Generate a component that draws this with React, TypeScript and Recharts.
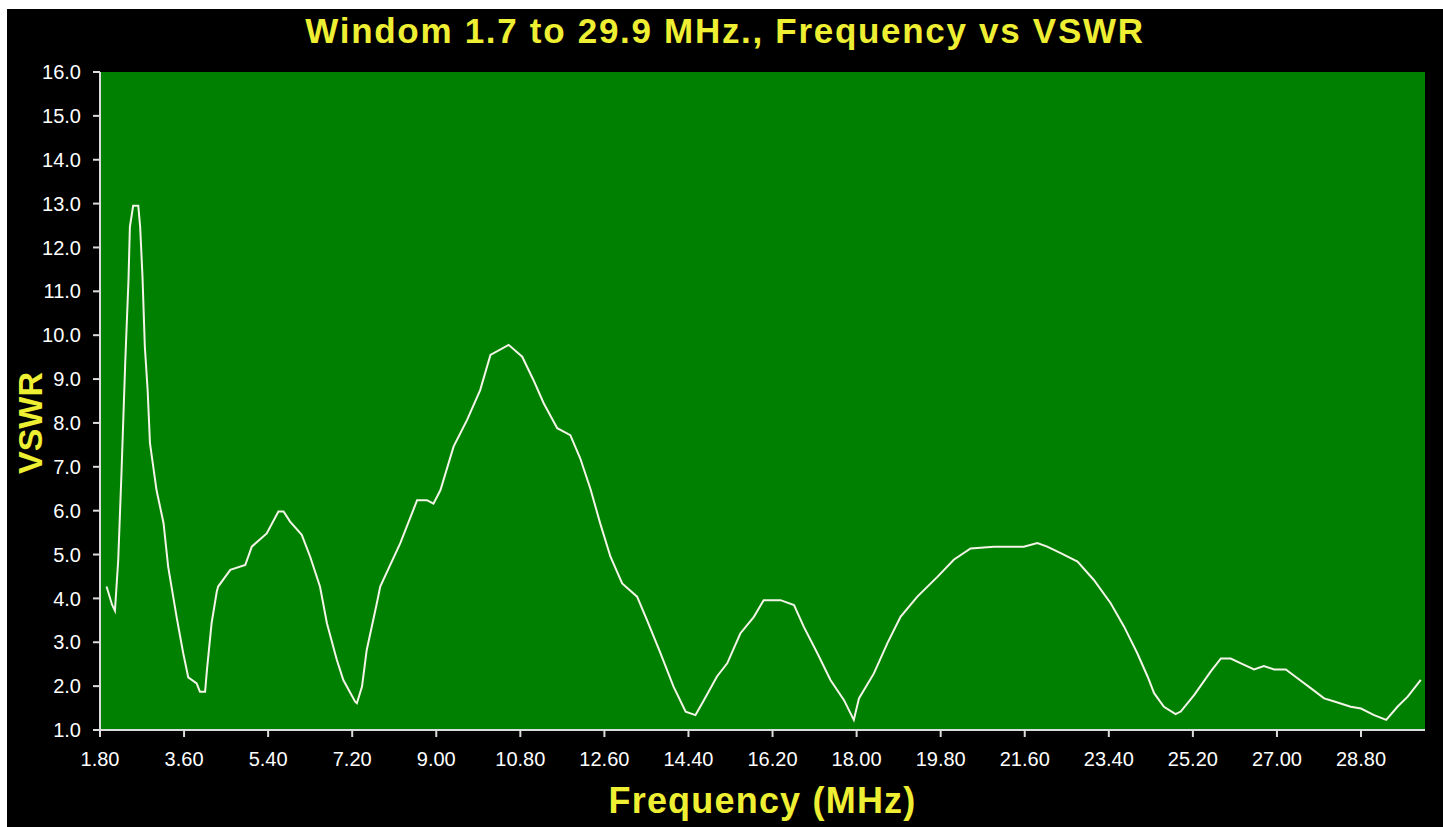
import React from 'react';
import { LineChart, Line, XAxis, YAxis, CartesianGrid } from 'recharts';

const freq = [
  1.94, 2.06, 2.12, 2.19, 2.26, 2.34, 2.41, 2.44, 2.51, 2.62, 2.66, 2.71, 2.76, 2.82, 2.87,
  3.01, 3.16, 3.26, 3.44, 3.58, 3.69, 3.87, 3.94, 4.05, 4.09, 4.19, 4.3, 4.33, 4.59, 4.91,
  5.05, 5.37, 5.62, 5.73, 5.87, 6.12, 6.3, 6.51, 6.66, 6.87, 7.01, 7.26, 7.3, 7.41, 7.51,
  7.73, 7.8, 8.23, 8.59, 8.8, 8.94, 9.09, 9.37, 9.66, 9.94, 10.16, 10.55, 10.84, 11.08, 11.3,
  11.59, 11.87, 12.08, 12.3, 12.51, 12.73, 12.98, 13.3, 13.51, 13.8, 14.08, 14.34, 14.55, 14.73, 15.01,
  15.23, 15.51, 15.8, 16.01, 16.37, 16.66, 16.87, 17.16, 17.44, 17.73, 17.94, 18.05, 18.37, 18.66, 18.94,
  19.3, 19.73, 20.08, 20.44, 20.94, 21.58, 21.87, 22.08, 22.37, 22.73, 23.08, 23.44, 23.73, 24.01, 24.23,
  24.37, 24.58, 24.83, 24.94, 25.23, 25.58, 25.8, 26.01, 26.23, 26.51, 26.72, 26.94, 27.19, 27.44, 27.73,
  28.01, 28.23, 28.58, 28.8, 29.08, 29.34, 29.58, 29.8, 30.08,
];
const vswr = [
  4.27, 3.85, 3.72, 4.87, 6.86, 9.37, 11.26, 12.47, 12.95, 12.95, 12.47, 11.33, 9.74, 8.75, 7.54,
  6.47, 5.72, 4.72, 3.58, 2.76, 2.2, 2.06, 1.87, 1.87, 2.37, 3.44, 4.15, 4.27, 4.65, 4.76,
  5.18, 5.48, 5.98, 5.98, 5.75, 5.45, 4.95, 4.27, 3.43, 2.6, 2.14, 1.65, 1.61, 1.99, 2.82,
  3.9, 4.27, 5.26, 6.24, 6.24, 6.16, 6.47, 7.46, 8.07, 8.75, 9.55, 9.78, 9.51, 8.98, 8.45,
  7.88, 7.72, 7.2, 6.5, 5.71, 4.95, 4.34, 4.04, 3.51, 2.75, 1.99, 1.42, 1.34, 1.68, 2.22,
  2.52, 3.2, 3.58, 3.96, 3.96, 3.85, 3.35, 2.75, 2.14, 1.68, 1.23, 1.72, 2.29, 2.98, 3.58,
  4.04, 4.49, 4.88, 5.14, 5.18, 5.18, 5.26, 5.18, 5.03, 4.84, 4.42, 3.89, 3.35, 2.75, 2.22,
  1.84, 1.53, 1.36, 1.42, 1.8, 2.33, 2.63, 2.63, 2.52, 2.38, 2.46, 2.38, 2.38, 2.18, 1.95,
  1.72, 1.65, 1.53, 1.49, 1.34, 1.23, 1.53, 1.76, 2.14,
];

const xTicks = [1.8, 3.6, 5.4, 7.2, 9.0, 10.8, 12.6, 14.4, 16.2, 18.0, 19.8, 21.6, 23.4, 25.2, 27.0, 28.8];
const yTicks = [1, 2, 3, 4, 5, 6, 7, 8, 9, 10, 11, 12, 13, 14, 15, 16];

const data = freq.map((f, i) => ({ f, v: vswr[i] }));

const YELLOW = '#eeee33';
const FRAME = '#dcdcdc';
const xDomain = [1.8, 30.17];
const yDomain = [1, 16];

const App = () => {
  const tickStyle = { fill: '#ffffff', fontSize: 20 };
  return (
    <div
      style={{
        position: 'absolute',
        left: 7,
        top: 9,
        width: 1436,
        height: 818,
        background: '#000',
        fontFamily: '"Liberation Sans", Arial, sans-serif',
      }}
    >
      <LineChart width={1436} height={818} data={data} margin={{ top: 63, right: 18, bottom: 0, left: 0 }}>
        <CartesianGrid fill="#008000" horizontal={false} vertical={false} />
        <XAxis
          dataKey="f"
          type="number"
          domain={xDomain}
          ticks={xTicks}
          allowDataOverflow
          tickFormatter={(t: number) => t.toFixed(2)}
          height={97}
          tickSize={7}
          tickMargin={15}
          tick={tickStyle}
          axisLine={{ stroke: FRAME, strokeWidth: 2 }}
          tickLine={{ stroke: FRAME, strokeWidth: 2 }}
        />
        <XAxis
          xAxisId="top"
          orientation="top"
          type="number"
          domain={xDomain}
          height={0}
          tick={false}
          tickLine={false}
          axisLine={{ stroke: FRAME, strokeWidth: 2 }}
        />
        <YAxis
          type="number"
          domain={yDomain}
          ticks={yTicks}
          allowDataOverflow
          tickFormatter={(t: number) => t.toFixed(1)}
          width={93}
          tickSize={7}
          tickMargin={12}
          tick={tickStyle}
          axisLine={{ stroke: FRAME, strokeWidth: 2 }}
          tickLine={{ stroke: FRAME, strokeWidth: 2 }}
        />
        <YAxis
          yAxisId="right"
          orientation="right"
          type="number"
          domain={yDomain}
          width={0}
          tick={false}
          tickLine={false}
          axisLine={{ stroke: FRAME, strokeWidth: 2 }}
        />
        <Line
          type="linear"
          dataKey="v"
          stroke="#f4f4e8"
          strokeWidth={2}
          dot={false}
          isAnimationActive={false}
        />
      </LineChart>

      <div
        style={{
          position: 'absolute',
          left: 0,
          top: 2,
          width: '100%',
          textAlign: 'center',
          color: YELLOW,
          fontWeight: 'bold',
          fontSize: 35,
          letterSpacing: 1.7,
          whiteSpace: 'nowrap',
        }}
      >
        Windom 1.7 to 29.9 MHz., Frequency vs VSWR
      </div>
      <div
        style={{
          position: 'absolute',
          left: 93,
          top: 771,
          width: 1325,
          textAlign: 'center',
          color: YELLOW,
          fontWeight: 'bold',
          fontSize: 36,
          letterSpacing: 1.2,
          whiteSpace: 'nowrap',
        }}
      >
        Frequency (MHz)
      </div>
      <div
        style={{
          position: 'absolute',
          left: 23,
          top: 414,
          transform: 'translate(-50%, -50%) rotate(-90deg)',
          color: YELLOW,
          fontWeight: 'bold',
          fontSize: 34,
          whiteSpace: 'nowrap',
        }}
      >
        VSWR
      </div>
    </div>
  );
};

export default App;
